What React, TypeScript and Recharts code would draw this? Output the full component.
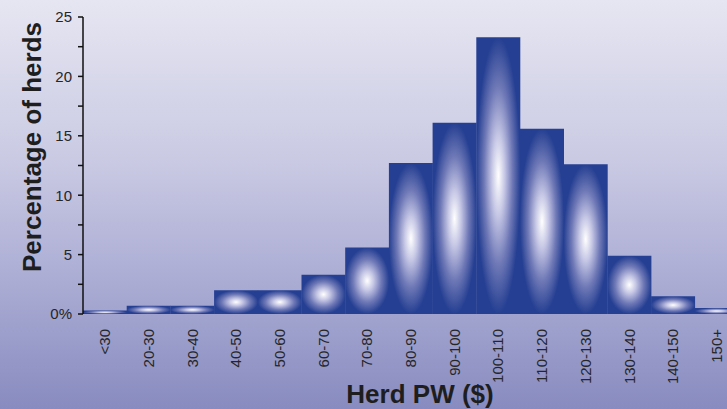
import * as React from "react";
import { Bar, BarChart, XAxis, YAxis, Label } from "recharts";

const categories = ["<30", "20-30", "30-40", "40-50", "50-60", "60-70", "70-80", "80-90", "90-100", "100-110", "110-120", "120-130", "130-140", "140-150", "150+"];
const herdPercent = [0.3, 0.7, 0.7, 2.0, 2.0, 3.3, 5.6, 12.7, 16.1, 23.3, 15.6, 12.6, 4.9, 1.5, 0.5];
const yTicks = [0, 2.5, 5, 7.5, 10, 12.5, 15, 17.5, 20, 22.5, 25];

const data = categories.map((name, i) => ({ name, pct: herdPercent[i] }));

const FONT = "'Liberation Sans', Arial, sans-serif";

const XTick = (props: any) => {
  const { x, y, payload } = props;
  return (
    <g transform={`translate(${x},${y})`}>
      <text transform="rotate(-90)" x={-7} y={0} dy="0.35em" textAnchor="end" fontSize={15} fill="#262626" fontFamily={FONT}>
        {payload.value}
      </text>
    </g>
  );
};

const fmtY = (v: number) => (v === 0 ? "0%" : v % 5 === 0 ? String(v) : "");

const App = () => {
  return (
    <div
      style={{
        position: "absolute",
        left: 0,
        top: 0,
        width: 727,
        height: 409,
        overflow: "hidden",
        background: "linear-gradient(to bottom, #e6e6f2 0%, #c9c9e3 40%, #a9abd3 70%, #888bbf 100%)",
      }}
    >
      <BarChart
        width={760}
        height={409}
        data={data}
        barCategoryGap={0}
        margin={{ top: 17, right: 21.5, left: 0, bottom: 0 }}
      >
        <defs>
          <radialGradient id="barGlow" cx="0.5" cy="0.5" r="0.5">
            <stop offset="0%" stopColor="#ffffff" />
            <stop offset="30%" stopColor="#c4c5e4" />
            <stop offset="65%" stopColor="#6e78b6" />
            <stop offset="100%" stopColor="#253f92" />
          </radialGradient>
        </defs>
        <XAxis
          dataKey="name"
          interval={0}
          tick={<XTick />}
          tickLine={false}
          axisLine={false}
          height={95}
        >
          <Label
            content={() => (
              <text x={420} y={403} textAnchor="middle" fontSize={26} fontWeight="bold" fill="#1e1e1e" fontFamily={FONT}>
                Herd PW ($)
              </text>
            )}
          />
        </XAxis>
        <YAxis
          domain={[0, 25]}
          ticks={yTicks}
          interval={0}
          tickFormatter={fmtY}
          width={83}
          tickSize={5}
          tickMargin={6}
          axisLine={{ stroke: "#111", strokeWidth: 1.5 }}
          tickLine={{ stroke: "#111", strokeWidth: 1.5 }}
          tick={{ fontSize: 15, fill: "#262626", fontFamily: FONT }}
        >
          <Label
            content={() => (
              <text
                transform="translate(41,147) rotate(-90)"
                textAnchor="middle"
                fontSize={26}
                fontWeight="bold"
                fill="#1e1e1e"
                fontFamily={FONT}
              >
                Percentage of herds
              </text>
            )}
          />
        </YAxis>
        <Bar dataKey="pct" fill="url(#barGlow)" isAnimationActive={false} />
      </BarChart>
    </div>
  );
};

export default App;
